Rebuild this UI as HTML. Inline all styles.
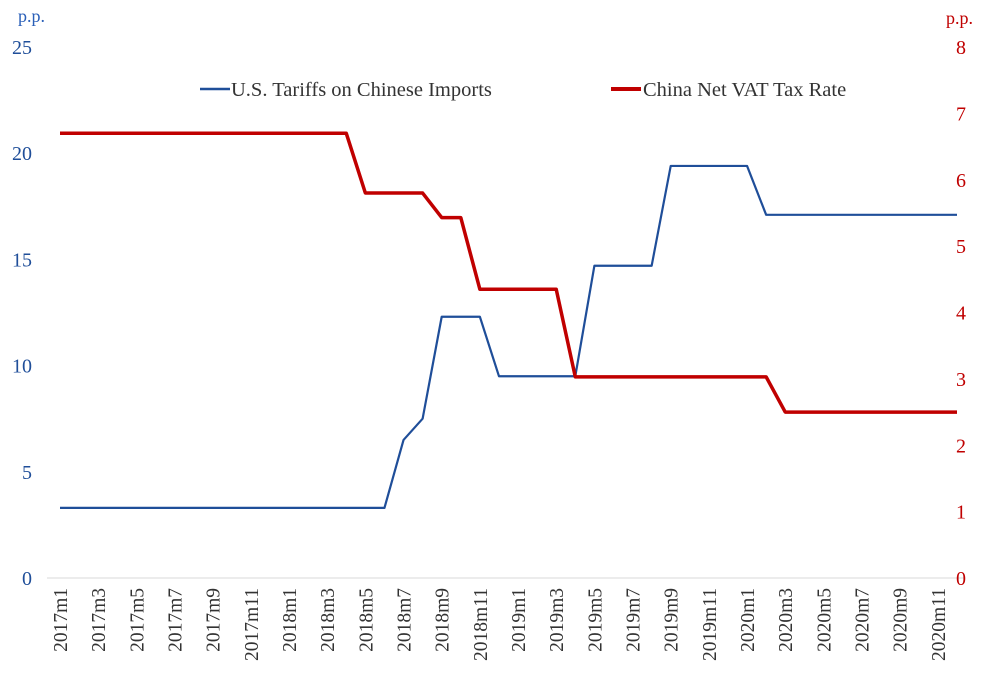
<!DOCTYPE html>
<html><head><meta charset="utf-8"><style>
body{margin:0;background:#fff}
svg text{font-family:"Liberation Serif",serif}
</style></head><body>
<svg id="c" width="1000" height="674" xmlns="http://www.w3.org/2000/svg">
<text x="18" y="22" font-size="18" fill="#2a5fb8">p.p.</text>
<text x="946" y="24" font-size="18" fill="#c00000">p.p.</text>
<g>
<line x1="200" y1="89" x2="230" y2="89" stroke="#1f4e99" stroke-width="2.5"/>
<text x="231" y="96" font-size="20.5" fill="#333">U.S. Tariffs on Chinese Imports</text>
<line x1="611" y1="89" x2="641" y2="89" stroke="#c00000" stroke-width="4"/>
<text x="643" y="96" font-size="20.5" fill="#333">China Net VAT Tax Rate</text>
</g>
<g id="axes"></g>
<g id="series"></g>
</svg>
<script>
const months=[];for(let y=2017;y<=2020;y++)for(let m=1;m<=12;m++)months.push(y+"m"+m);
const usTariffs=[3.3,3.3,3.3,3.3,3.3,3.3,3.3,3.3,3.3,3.3,3.3,3.3,3.3,3.3,3.3,3.3,3.3,3.3,6.5,7.5,12.3,12.3,12.3,9.5,9.5,9.5,9.5,9.5,14.7,14.7,14.7,14.7,19.4,19.4,19.4,19.4,19.4,17.1,17.1,17.1,17.1,17.1,17.1,17.1,17.1,17.1,17.1,17.1];
const chinaVat=[6.7,6.7,6.7,6.7,6.7,6.7,6.7,6.7,6.7,6.7,6.7,6.7,6.7,6.7,6.7,6.7,5.8,5.8,5.8,5.8,5.43,5.43,4.35,4.35,4.35,4.35,4.35,3.03,3.03,3.03,3.03,3.03,3.03,3.03,3.03,3.03,3.03,3.03,2.5,2.5,2.5,2.5,2.5,2.5,2.5,2.5,2.5,2.5];
const leftTicks=[0,5,10,15,20,25];
const rightTicks=[0,1,2,3,4,5,6,7,8];
const NS="http://www.w3.org/2000/svg";
const x0=60,x1=957,yb=578,yt=47;
const xs=i=>x0+i*(x1-x0)/(months.length-1);
const yl=v=>yb-v/25*(yb-yt);
const yr=v=>yb-v/8*(yb-yt);
const ax=document.getElementById('axes'),se=document.getElementById('series');
function mk(t,a,p){const e=document.createElementNS(NS,t);for(const k in a)e.setAttribute(k,a[k]);p.appendChild(e);return e;}
const base=mk('line',{x1:47,y1:yb,x2:965,y2:yb,stroke:'#d9d9d9','stroke-width':1},ax);


leftTicks.forEach(v=>{const t=mk('text',{x:32,y:yl(v)+7,'font-size':20,fill:'#1f4e99','text-anchor':'end'},ax);t.textContent=v;

});
rightTicks.forEach(v=>{const t=mk('text',{x:956,y:yr(v)+7,'font-size':20,fill:'#c00000'},ax);t.textContent=v;

});
months.forEach((m,i)=>{if(i%2)return;const x=xs(i)+7;const t=mk('text',{x:0,y:0,'font-size':19.5,fill:'#333','text-anchor':'end',transform:`translate(${x},588) rotate(-90)`},ax);t.textContent=m;

});
const pb=mk('polyline',{points:usTariffs.map((v,i)=>xs(i)+','+yl(v)).join(' '),fill:'none',stroke:'#1f4e99','stroke-width':2.2,'stroke-linejoin':'round'},se);


const pr=mk('polyline',{points:chinaVat.map((v,i)=>xs(i)+','+yr(v)).join(' '),fill:'none',stroke:'#c00000','stroke-width':3.5,'stroke-linejoin':'round'},se);


</script>
</body></html>
